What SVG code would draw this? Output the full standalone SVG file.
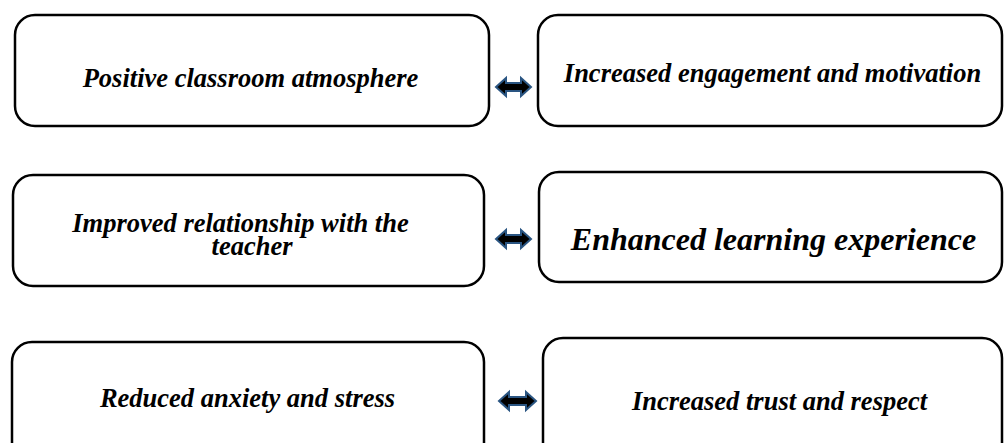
<svg xmlns="http://www.w3.org/2000/svg" width="1004" height="443" viewBox="0 0 1004 443">
<style>
.box{fill:#fff;stroke:#000;stroke-width:2.5}
.t{font-family:'Liberation Serif','Times New Roman',Times,serif;font-weight:700;font-style:italic;font-size:26.5px;fill:#000;text-anchor:middle}
.big{font-size:32px}
.arr{fill:#000;stroke:#2A5582;stroke-width:2;stroke-linejoin:miter}
</style>
<rect width="1004" height="443" fill="#fff"/>
<g id="n1"><rect class="box" x="15" y="15" width="474" height="111" rx="20"/><text class="t" x="250.5" y="87">Positive classroom atmosphere</text></g>
<g id="n2"><rect class="box" x="538" y="15" width="464" height="111" rx="20"/><text class="t" x="772.5" y="82">Increased engagement and motivation</text></g>
<g id="n3"><rect class="box" x="13" y="175" width="471" height="111" rx="20"/><text class="t" x="240.5" y="232">Improved relationship with the</text><text class="t" x="252" y="255">teacher</text></g>
<g id="n4"><rect class="box" x="539" y="172" width="463" height="110" rx="20"/><text class="t big" x="773.5" y="250">Enhanced learning experience</text></g>
<g id="n5"><rect class="box" x="12" y="342" width="472" height="130" rx="20"/><text class="t" x="247.5" y="407">Reduced anxiety and stress</text></g>
<g id="n6"><rect class="box" x="543" y="338" width="459" height="134" rx="20"/><text class="t" x="779.5" y="410">Increased trust and respect</text></g>
<g id="connectors">
<polygon class="arr" points="496,87 506,78 506,83 521,83 521,78 531,87 521,96 521,91 506,91 506,96"/>
<polygon class="arr" points="496,239 506,230 506,235 521,235 521,230 531,239 521,248 521,243 506,243 506,248"/>
<polygon class="arr" points="499,401 509,392 509,397 526,397 526,392 536,401 526,410 526,405 509,405 509,410"/>
</g>
</svg>
